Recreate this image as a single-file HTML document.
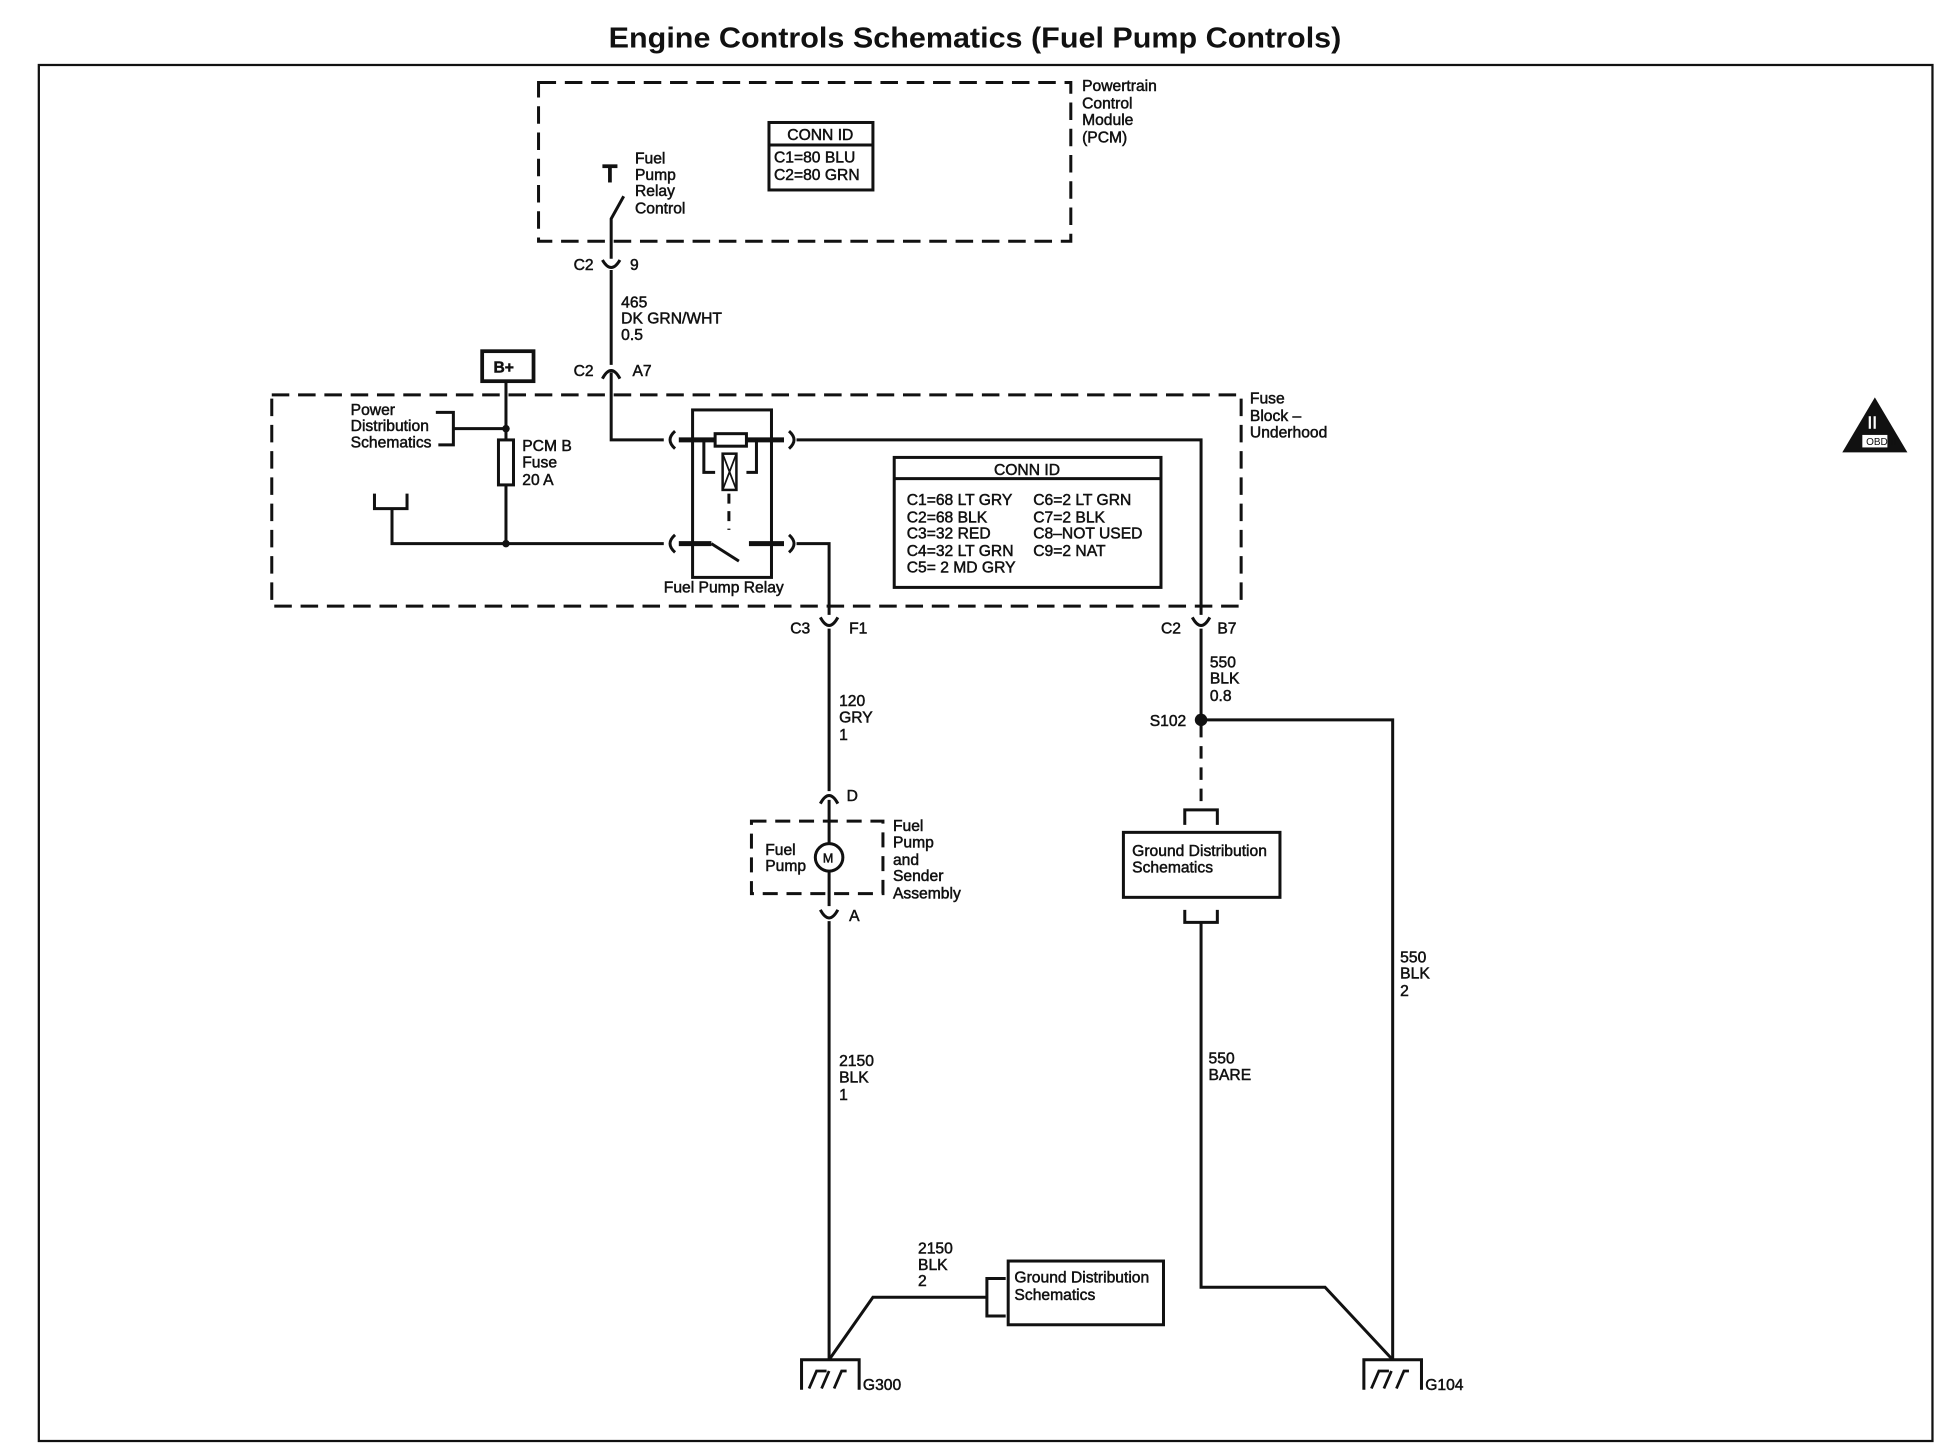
<!DOCTYPE html>
<html><head><meta charset="utf-8"><style>
html,body{margin:0;padding:0;background:#fff}
svg{display:block}
text{font-family:"Liberation Sans",Arial,sans-serif;font-size:12.5px;fill:#111;stroke:#111;stroke-width:0.4}
</style></head><body>
<svg width="1950" height="1456" viewBox="0 0 1557 1165" preserveAspectRatio="none">
<g fill="none" stroke="#111" stroke-width="2.4">
<rect x="31" y="52" width="1512" height="1101" stroke-width="1.8"/>
<rect x="430" y="66" width="425" height="127" stroke-dasharray="14,7"/>
<rect x="217" y="316" width="774" height="169" stroke-dasharray="14,7"/>
<rect x="614" y="98" width="83" height="54"/><line x1="614" y1="116" x2="697" y2="116"/>
<line x1="481" y1="133" x2="493" y2="133" stroke-width="3"/><line x1="487" y1="133" x2="487" y2="146" stroke-width="3"/>
<polyline points="498,157 488,175 488,207"/>
<path d="M481,208 Q488,220 495,208"/>
<line x1="488" y1="216" x2="488" y2="292"/>
<path d="M481,303 Q488,290 495,303"/>
<polyline points="488,298 488,352 530,352"/>
<rect x="385" y="281" width="41" height="24" stroke-width="3"/>
<line x1="404" y1="306" x2="404" y2="435"/>
<rect x="398" y="352" width="12" height="36" fill="#fff"/>
<polyline points="348,330 362,330 362,356 350,356"/><line x1="362" y1="343" x2="404" y2="343"/>
<polyline points="299,395 299,407 325,407 325,395"/><polyline points="313,407 313,435 530,435"/>
<rect x="553" y="328" width="63" height="134"/>
<path d="M539,345 Q531,352 539,359"/><path d="M539,428 Q531,435 539,442"/>
<path d="M630,345 Q638,352 630,359"/><path d="M630,428 Q638,435 630,442"/>
<line x1="542" y1="352" x2="571" y2="352" stroke-width="4"/><rect x="571" y="347" width="25" height="10"/><line x1="596" y1="352" x2="626" y2="352" stroke-width="4"/>
<polyline points="562,352 562,378 571,378"/><polyline points="604,352 604,378 596,378"/>
<rect x="577" y="363" width="11" height="29" stroke-width="2"/><path d="M577,363 L588,392 M588,363 L577,392" stroke-width="1.4"/>
<line x1="582" y1="395" x2="582" y2="424" stroke-dasharray="8,6"/>
<line x1="542" y1="435" x2="568" y2="435" stroke-width="4"/><line x1="568" y1="435" x2="590" y2="449"/><line x1="598" y1="435" x2="626" y2="435" stroke-width="4"/>
<polyline points="636,352 959,352 959,492"/>
<polyline points="636,435 662,435 662,492"/>
<path d="M655,494 Q662,507 669,494"/><path d="M952,494 Q959,507 966,494"/>
<rect x="714" y="366" width="213" height="104"/><line x1="714" y1="383" x2="927" y2="383"/>
<line x1="662" y1="503" x2="662" y2="633"/>
<path d="M655,643 Q662,630 669,643"/>
<line x1="662" y1="640" x2="662" y2="675"/><line x1="662" y1="697" x2="662" y2="725"/>
<circle cx="662" cy="686" r="11"/>
<rect x="600" y="657" width="105" height="58" stroke-dasharray="12,7"/>
<path d="M655,728 Q662,741 669,728"/>
<line x1="662" y1="737" x2="662" y2="1088"/>
<polyline points="662,1088 697,1038 788,1038"/>
<polyline points="803,1023 788,1023 788,1053 803,1053"/>
<rect x="805" y="1009" width="124" height="51"/>
<line x1="959" y1="503" x2="959" y2="576"/>
<polyline points="959,576 1112,576 1112,1088"/>
<line x1="959" y1="580" x2="959" y2="648" stroke-dasharray="10,7"/>
<polyline points="946,660 946,648 972,648 972,660"/>
<rect x="897" y="666" width="125" height="52"/>
<polyline points="946,728 946,738 972,738 972,728"/>
<polyline points="959,738 959,1030 1058,1030 1112,1088"/>
<polyline points="640,1112 640,1088 686,1088 686,1112"/><path d="M646,1111 L652,1097 L660,1097 M656,1111 L662,1097 M666,1111 L672,1097 L676,1097" stroke-width="2.2"/>
<polyline points="1089,1112 1089,1088 1135,1088 1135,1112"/><path d="M1095,1111 L1101,1097 L1109,1097 M1105,1111 L1111,1097 M1115,1111 L1121,1097 L1125,1097" stroke-width="2.2"/>
</g>
<g fill="#111">
<circle cx="404" cy="343" r="3"/><circle cx="404" cy="435" r="3"/><circle cx="959" cy="576" r="5"/>
<polygon points="1471,362 1497,318 1523,362"/>
</g>
<rect x="1487" y="348" width="20" height="10" fill="#fff"/>
<text x="1490" y="356" style="font-size:8px;stroke-width:0">OBD II</text>
<text x="1491" y="343" style="font-size:14px;fill:#fff;stroke:#fff">II</text>
<text x="486" y="38" textLength="585" lengthAdjust="spacingAndGlyphs" style="font-size:23px;font-weight:bold;stroke-width:0">Engine Controls Schematics (Fuel Pump Controls)</text>
<text x="864" y="73">Powertrain</text><text x="864" y="87">Control</text><text x="864" y="100">Module</text><text x="864" y="114">(PCM)</text>
<text x="655" y="112" text-anchor="middle">CONN ID</text><text x="618" y="130">C1=80 BLU</text><text x="618" y="144">C2=80 GRN</text>
<text x="507" y="131">Fuel</text><text x="507" y="144">Pump</text><text x="507" y="157">Relay</text><text x="507" y="171">Control</text>
<text x="458" y="216">C2</text><text x="503" y="216">9</text>
<text x="496" y="246">465</text><text x="496" y="259">DK GRN/WHT</text><text x="496" y="272">0.5</text>
<text x="458" y="301">C2</text><text x="505" y="301">A7</text>
<text x="394" y="298" style="font-weight:bold">B+</text>
<text x="998" y="323">Fuse</text><text x="998" y="337">Block –</text><text x="998" y="350">Underhood</text>
<text x="280" y="332">Power</text><text x="280" y="345">Distribution</text><text x="280" y="358">Schematics</text>
<text x="417" y="361">PCM B</text><text x="417" y="374">Fuse</text><text x="417" y="388">20 A</text>
<text x="530" y="474">Fuel Pump Relay</text>
<text x="820" y="380" text-anchor="middle">CONN ID</text>
<text x="724" y="404">C1=68 LT GRY</text><text x="724" y="418">C2=68 BLK</text><text x="724" y="431">C3=32 RED</text><text x="724" y="445">C4=32 LT GRN</text><text x="724" y="458">C5= 2 MD GRY</text>
<text x="825" y="404">C6=2 LT GRN</text><text x="825" y="418">C7=2 BLK</text><text x="825" y="431">C8–NOT USED</text><text x="825" y="445">C9=2 NAT</text>
<text x="631" y="507">C3</text><text x="678" y="507">F1</text><text x="927" y="507">C2</text><text x="972" y="507">B7</text>
<text x="966" y="534">550</text><text x="966" y="547">BLK</text><text x="966" y="561">0.8</text><text x="918" y="581">S102</text>
<text x="670" y="565">120</text><text x="670" y="578">GRY</text><text x="670" y="592">1</text>
<text x="676" y="641">D</text>
<text x="611" y="684">Fuel</text><text x="611" y="697">Pump</text>
<text x="657" y="690" style="font-size:10px">M</text>
<text x="713" y="665">Fuel</text><text x="713" y="678">Pump</text><text x="713" y="692">and</text><text x="713" y="705">Sender</text><text x="713" y="719">Assembly</text>
<text x="678" y="737">A</text>
<text x="904" y="685">Ground Distribution</text><text x="904" y="698">Schematics</text>
<text x="670" y="853">2150</text><text x="670" y="866">BLK</text><text x="670" y="880">1</text>
<text x="965" y="851">550</text><text x="965" y="864">BARE</text>
<text x="1118" y="770">550</text><text x="1118" y="783">BLK</text><text x="1118" y="797">2</text>
<text x="733" y="1003">2150</text><text x="733" y="1016">BLK</text><text x="733" y="1029">2</text>
<text x="810" y="1026">Ground Distribution</text><text x="810" y="1040">Schematics</text>
<text x="689" y="1112">G300</text><text x="1138" y="1112">G104</text>
</svg>
</body></html>
